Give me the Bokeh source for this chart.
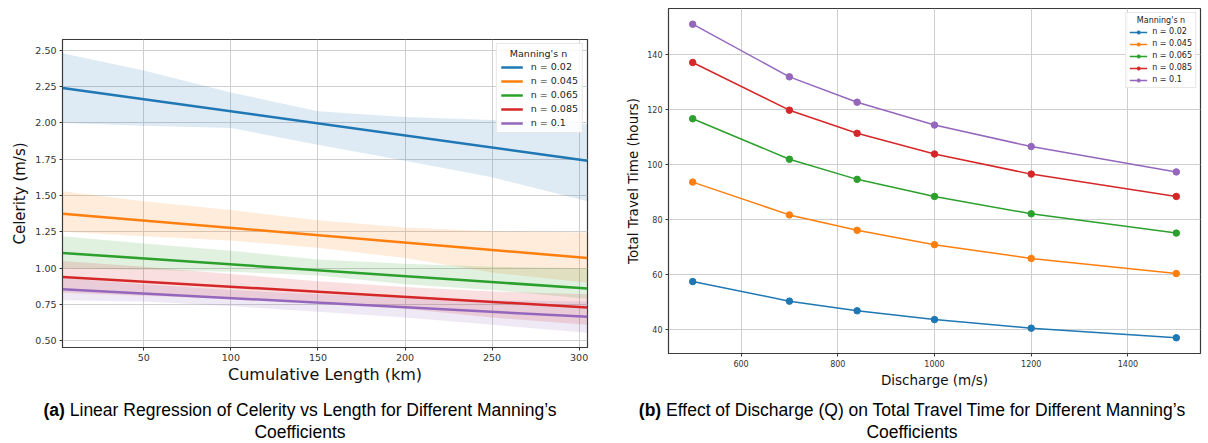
from bokeh.plotting import figure
from bokeh.models import Range1d, Legend, LegendItem, Div, FixedTicker, PrintfTickFormatter
from bokeh.layouts import row, column
from bokeh.embed import file_html
from bokeh.resources import INLINE

# ---------------- data ----------------
series_labels = ["n = 0.02", "n = 0.045", "n = 0.065", "n = 0.085", "n = 0.1"]
colors = ["#1f77b4", "#ff7f0e", "#2ca02c", "#d62728", "#9467bd"]

# (a) regression lines (start / end of cumulative length)
reg_x = [3.3, 304.8]
reg_002 = [2.24, 1.74]
reg_0045 = [1.375, 1.07]
reg_0065 = [1.105, 0.86]
reg_0085 = [0.94, 0.73]
reg_01 = [0.855, 0.665]

# (a) confidence bands
band_x = [3.3, 50, 100, 150, 200, 250, 304.8]
up_002 = [2.48, 2.36, 2.21, 2.08, 2.04, 2.02, 1.99]
lo_002 = [2.00, 1.98, 1.965, 1.85, 1.74, 1.625, 1.46]
up_0045 = [1.53, 1.46, 1.40, 1.33, 1.28, 1.255, 1.245]
lo_0045 = [1.25, 1.22, 1.19, 1.14, 1.07, 0.97, 0.90]
up_0065 = [1.22, 1.17, 1.12, 1.06, 1.03, 1.01, 1.00]
lo_0065 = [1.00, 0.99, 0.975, 0.95, 0.89, 0.85, 0.79]
up_0085 = [1.05, 1.01, 0.96, 0.91, 0.87, 0.84, 0.82]
lo_0085 = [0.83, 0.81, 0.79, 0.77, 0.72, 0.66, 0.61]
up_01 = [0.93, 0.89, 0.85, 0.82, 0.80, 0.78, 0.77]
lo_01 = [0.78, 0.77, 0.74, 0.70, 0.66, 0.61, 0.555]

# (b) travel time vs discharge
discharge = [500, 700, 840, 1000, 1200, 1500]
tt_002 = [57.5, 50.4, 46.9, 43.7, 40.6, 37.1]
tt_0045 = [93.6, 81.7, 76.1, 70.9, 65.9, 60.4]
tt_0065 = [116.6, 101.9, 94.6, 88.4, 82.1, 75.1]
tt_0085 = [137.0, 119.7, 111.3, 103.8, 96.5, 88.4]
tt_01 = [150.9, 131.8, 122.6, 114.3, 106.5, 97.3]

regs = [reg_002, reg_0045, reg_0065, reg_0085, reg_01]
ups = [up_002, up_0045, up_0065, up_0085, up_01]
los = [lo_002, lo_0045, lo_0065, lo_0085, lo_01]
tts = [tt_002, tt_0045, tt_0065, tt_0085, tt_01]

FONT = "DejaVu Sans"
NB = "\u00a0"


def style(p, tick_size, xlab_size, ylab_size):
    p.outline_line_color = "#3a3a3a"
    p.outline_line_width = 1.2
    for ax in (p.xaxis[0], p.yaxis[0]):
        ax.axis_line_color = "#3a3a3a"
        ax.major_tick_line_color = "#3a3a3a"
        ax.major_tick_out = 3
        ax.major_tick_in = 0
        ax.minor_tick_line_color = None
        ax.major_label_text_font = FONT
        ax.major_label_text_font_size = tick_size
        ax.major_label_text_color = "#333333"
        ax.axis_label_text_font = FONT
        ax.axis_label_text_font_style = "normal"
        ax.axis_label_text_color = "#111111"
        ax.major_label_standoff = 3
    p.xaxis[0].axis_label_text_font_size = xlab_size
    p.yaxis[0].axis_label_text_font_size = ylab_size
    p.grid.grid_line_color = "#cfcfcf"
    p.grid.grid_line_width = 1
    p.background_fill_color = "white"
    p.border_fill_color = "white"
    p.frame_align = False


# ---------------- (a) ----------------
p1 = figure(width=600, height=392, x_range=Range1d(3.3, 304.8), y_range=Range1d(0.454, 2.574),
            output_backend="svg", toolbar_location=None,
            min_border_left=62, min_border_right=13, min_border_top=39, min_border_bottom=45)
style(p1, "9.5px", "16px", "15px")
p1.xaxis[0].axis_label = "Cumulative Length (km)"
p1.yaxis[0].axis_label = "Celerity (m/s)"
p1.xaxis[0].ticker = FixedTicker(ticks=[50, 100, 150, 200, 250, 300])
p1.yaxis[0].ticker = FixedTicker(ticks=[0.5, 0.75, 1.0, 1.25, 1.5, 1.75, 2.0, 2.25, 2.5])
p1.yaxis[0].formatter = PrintfTickFormatter(format="%.2f")
p1.xaxis[0].axis_label_standoff = 1
p1.yaxis[0].axis_label_standoff = 3

items1 = []
for lab, c, r, u, l in zip(series_labels, colors, regs, ups, los):
    p1.varea(x=band_x, y1=l, y2=u, fill_color=c, fill_alpha=0.15)
for lab, c, r in zip(series_labels, colors, regs):
    gl = p1.line(reg_x, r, line_color=c, line_width=2.5)
    items1.append(LegendItem(label=lab, renderers=[gl]))

leg1 = Legend(items=items1, title=NB * 3 + "Manning's n", location="top_right")
leg1.margin = 4
leg1.padding = 4
leg1.spacing = 3
leg1.label_height = 10
leg1.glyph_height = 10
leg1.glyph_width = 22
leg1.label_standoff = 8
leg1.title_standoff = 2
leg1.title_text_font = FONT
leg1.title_text_font_size = "9.5px"
leg1.title_text_font_style = "normal"
leg1.title_text_color = "#222222"
leg1.label_text_font = FONT
leg1.label_text_font_size = "9.5px"
leg1.label_text_color = "#222222"
leg1.background_fill_alpha = 0.85
leg1.border_line_color = "#d0d0d0"
p1.add_layout(leg1)

# ---------------- (b) ----------------
p2 = figure(width=608, height=392, x_range=Range1d(450, 1550), y_range=Range1d(31.4, 156.6),
            output_backend="svg", toolbar_location=None,
            min_border_left=68, min_border_right=8, min_border_top=8, min_border_bottom=39)
style(p2, "8px", "13.5px", "13.5px")
p2.xaxis[0].axis_label = "Discharge (m/s)"
p2.yaxis[0].axis_label = "Total Travel Time (hours)"
p2.xaxis[0].ticker = FixedTicker(ticks=[600, 800, 1000, 1200, 1400])
p2.yaxis[0].ticker = FixedTicker(ticks=[40, 60, 80, 100, 120, 140])
p2.xaxis[0].axis_label_standoff = 2
p2.yaxis[0].axis_label_standoff = 3

items2 = []
for lab, c, t in zip(series_labels, colors, tts):
    gl = p2.line(discharge, t, line_color=c, line_width=1.5)
    gs = p2.scatter(discharge, t, size=6.5, fill_color=c, line_color=c)
    items2.append(LegendItem(label=lab, renderers=[gl, gs]))

leg2 = Legend(items=items2, title=NB * 3 + "Manning's n", location="top_right")
leg2.margin = 4
leg2.padding = 3
leg2.spacing = 3
leg2.label_height = 8
leg2.glyph_height = 8
leg2.glyph_width = 18
leg2.label_standoff = 5
leg2.title_standoff = 2
leg2.title_text_font = FONT
leg2.title_text_font_size = "8px"
leg2.title_text_font_style = "normal"
leg2.title_text_color = "#222222"
leg2.label_text_font = FONT
leg2.label_text_font_size = "8px"
leg2.label_text_color = "#222222"
leg2.background_fill_alpha = 0.85
leg2.border_line_color = "#d0d0d0"
p2.add_layout(leg2)

# ---------------- captions ----------------
cap_style = {"font-family": "Liberation Sans, Arial, sans-serif", "font-size": "17.5px",
             "text-align": "center", "line-height": "22px", "color": "#000000",
             "padding-top": "7px", "width": "100%", "box-sizing": "border-box"}
cap_style2 = dict(cap_style)
cap_style2["padding-left"] = "16px"
d1 = Div(text="<b>(a)</b> Linear Regression of Celerity vs Length for Different Manning\u2019s<br>Coefficients",
         width=600, height=51, styles=cap_style, margin=0)
d2 = Div(text="<b>(b)</b> Effect of Discharge (Q) on Total Travel Time for Different Manning\u2019s<br>Coefficients",
         width=608, height=51, styles=cap_style2, margin=0)

layout = column(row(p1, p2), row(d1, d2))
open("out.html", "w").write(file_html(layout, INLINE))
